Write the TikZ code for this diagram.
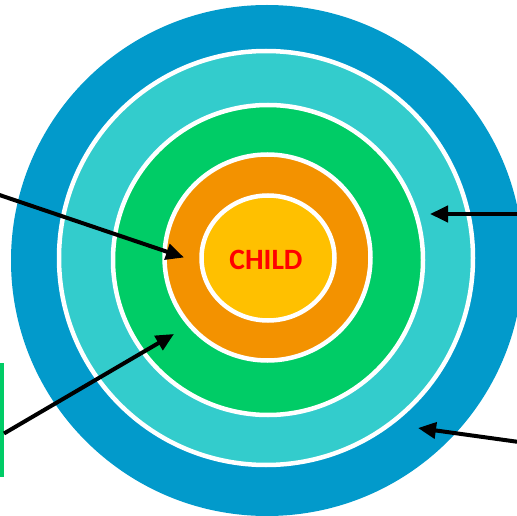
\documentclass[tikz,border=0pt]{standalone}
\usepackage{fontspec}
\newfontfamily\labfont{Carlito}
\usetikzlibrary{arrows.meta,shapes.geometric}
\definecolor{cblue}{HTML}{029ACB}
\definecolor{cteal}{HTML}{33CCCC}
\definecolor{cgreen}{HTML}{00CC66}
\definecolor{corange}{HTML}{F39200}
\definecolor{cyellow}{HTML}{FFC000}
\definecolor{cred}{HTML}{FF0000}
\tikzset{
  ring/.style={ellipse, inner sep=0pt, outer sep=0pt, draw=white, line width=4.5pt},
  pointer/.style={line width=4pt, -{Triangle[length=18pt,width=16pt]}},
}
\begin{document}
\begin{tikzpicture}[x=1pt,y=-1pt]
\useasboundingbox (0,0) rectangle (517,516);
\clip (0,0) rectangle (517,516);
\node[ellipse, fill=cblue, inner sep=0pt, minimum width=512pt, minimum height=511pt] (outer) at (267,260.5) {};
\node[ring, fill=cteal, minimum width=414pt, minimum height=414pt] (teal) at (266,258) {};
\node[ring, fill=cgreen, minimum width=310pt, minimum height=310pt] (green) at (268,260) {};
\node[ring, fill=corange, minimum width=206pt, minimum height=206pt] (orange) at (267.5,257.5) {};
\node[ring, fill=cyellow, minimum width=133pt, minimum height=125pt] (yellow) at (268,258) {};
\node[text=cred, font=\labfont\bfseries\fontsize{29.5}{31}\selectfont] (child) at (266,259.5) {CHILD};
\fill[cgreen] (0,363) rectangle (4,477);
\coordinate (s1) at (-2,194.5);
\coordinate (e1) at (184,257.5);
\coordinate (s2) at (4,433.5);
\coordinate (e2) at (174,334);
\coordinate (s3) at (519,214);
\coordinate (e3) at (430,214);
\coordinate (s4) at (519,442);
\coordinate (e4) at (418,428);
\draw[pointer] (s1) -- (e1);
\draw[pointer] (s2) -- (e2);
\draw[pointer] (s3) -- (e3);
\draw[pointer] (s4) -- (e4);
\end{tikzpicture}
\end{document}
